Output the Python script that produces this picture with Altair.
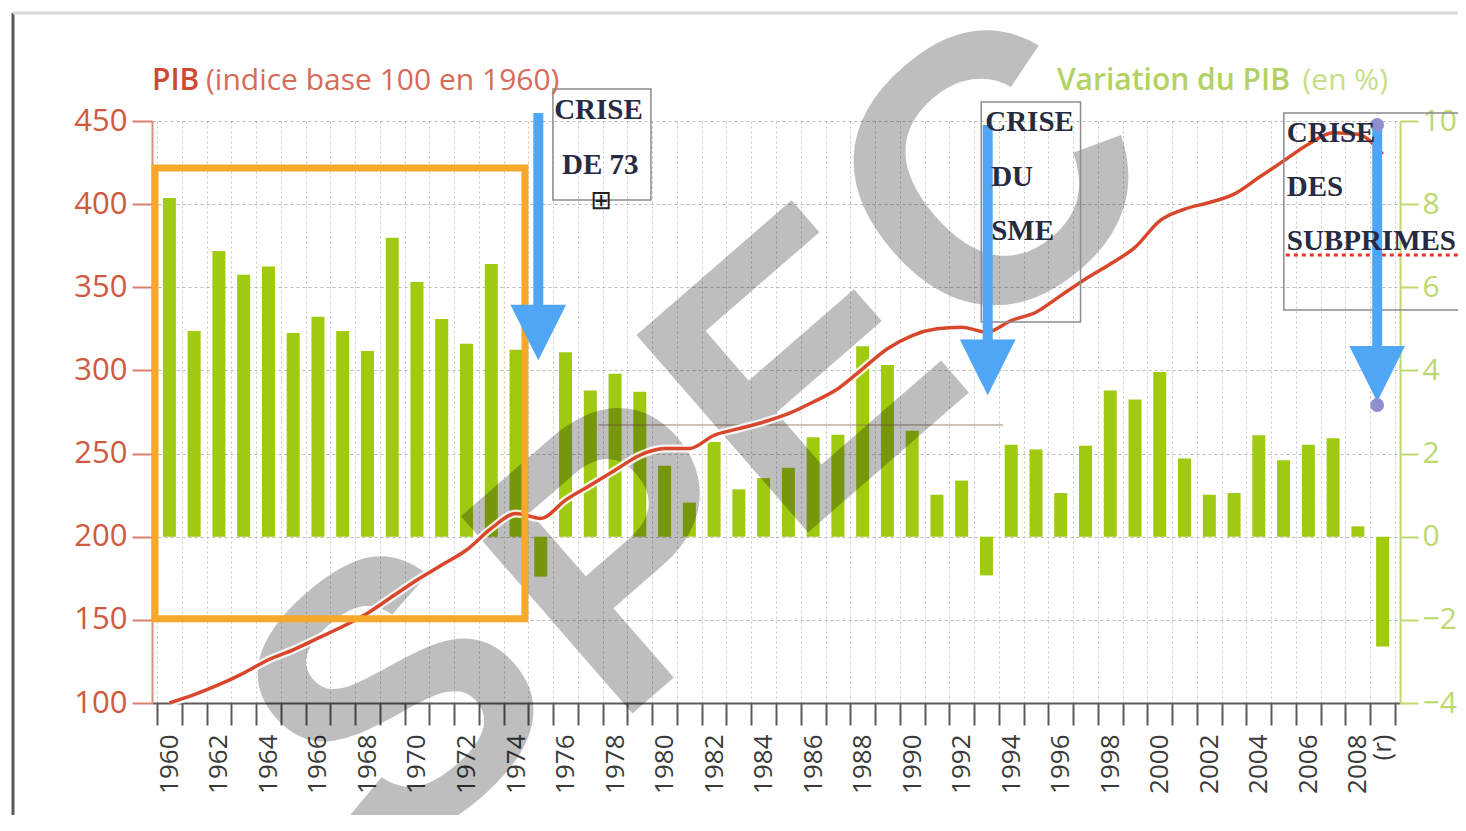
import altair as alt
import pandas as pd

# ---------------- data ----------------
years = list(range(1960, 2010))
growth = [8.15, 4.95, 6.87, 6.3, 6.5, 4.9, 5.29, 4.95, 4.47, 7.19,
          6.13, 5.24, 4.64, 6.56, 4.5, -0.96, 4.44, 3.52, 3.92, 3.49,
          1.71, 0.82, 2.28, 1.14, 1.41, 1.66, 2.39, 2.45, 4.58, 4.13,
          2.55, 1.01, 1.35, -0.93, 2.21, 2.1, 1.05, 2.19, 3.52, 3.3,
          3.96, 1.88, 1.01, 1.05, 2.44, 1.84, 2.21, 2.37, 0.25, -2.64]
pib = [100, 105, 111, 118, 126, 132, 139, 146, 154, 164,
       174, 183, 192, 205, 214, 211, 222, 231, 240, 249,
       253, 253, 261, 265, 269, 274, 281, 289, 301, 313,
       321, 325, 326, 323, 330, 335, 345, 355, 364, 374,
       390, 397, 401, 406, 416, 426, 436, 443, 442, 430]

left_ticks = [100, 150, 200, 250, 300, 350, 400, 450]
right_ticks = [-4, -2, 0, 2, 4, 6, 8, 10]

# annotations (in data space: years / PIB index)
arrow_x = [1974.9, 1993.05, 2008.78]
arrow_top = [454.8, 447.6, 447.6]
arrow_base = [336.3, 315.3, 309.3]
arrow_head = [322.8, 301.8, 297.9]
dot_x = [2008.78, 2008.78]
dot_y = [447.6, 279.2]

box_x1 = [1975.49, 1992.79, 2005.01]
box_x2 = [1979.45, 1996.8, 2013.0]
box_y1 = [469.2, 461.4, 454.8]
box_y2 = [402.5, 329.1, 336.3]

txt_c = ["CRISE", "DE 73"]
txt_c_x = [1977.33, 1977.4]
txt_c_y = [456.6, 423.5]
txt_l = ["CRISE", "DU", "SME", "CRISE", "DES", "SUBPRIMES"]
txt_l_x = [1992.95, 1993.19, 1993.19, 2005.13, 2005.13, 2005.13]
txt_l_y = [449.4, 416.3, 383.9, 442.8, 410.3, 377.8]

focus_x = [1959.42, 1974.36]
focus_y = [421.7, 150.7]

wm_letters = ["S", "P", "E", "C"]
wm_x = [1969.5, 1978.77, 1985.86, 1993.43]
wm_y = [97.0, 185.4, 294.3, 411.0]

# ---------------- scales / axes ----------------
xs = alt.Scale(domain=[1959.5, 2009.5], nice=False, zero=False)
yl = alt.Scale(domain=[100, 450], nice=False, zero=False)
yr = alt.Scale(domain=[-4, 10], nice=False, zero=False)

xvals = [1959.5 + 0.5 * i for i in range(101)]
xaxis = alt.Axis(
    values=xvals, title=None,
    labelExpr="datum.value == 2009 ? '(r)' : (datum.value % 2 == 0 ? '' + datum.value : '')",
    labelAngle=270, labelFont="Open Sans", labelFontSize=26, labelColor="#3a3a3a",
    labelOverlap=False, labelFlush=False, labelBound=False, labelPadding=9,
    tickSize=22, tickWidth=2, tickColor="#5a5a5a",
    tickOpacity={"condition": {"test": "datum.value % 1 == 0", "value": 0}, "value": 1},
    grid=True, gridColor="#c4c4c4", gridDash=[2, 3], gridWidth=1,
    gridOpacity={"condition": {"test": "datum.value % 1 == 0", "value": 0}, "value": 1},
    domainColor="#5a5a5a", domainWidth=2,
)
laxis = alt.Axis(
    orient="left", values=left_ticks, title=None,
    labelFont="Open Sans", labelFontSize=31, labelColor="#d05a40", labelPadding=5,
    tickSize=20, tickWidth=2, tickColor="#d9806e",
    domainColor="#de8d7c", domainWidth=2,
    grid=True, gridColor="#b9b9b9", gridDash=[3, 3], gridWidth=1,
)
raxis = alt.Axis(
    orient="right", values=right_ticks, title=None,
    labelFont="Open Sans", labelFontSize=30, labelColor="#bcd870", labelPadding=4,
    tickSize=18, tickWidth=2, tickColor="#bcd870",
    domainColor="#bcd870", domainWidth=2, grid=False,
)

df = pd.DataFrame({"year": years, "growth": growth, "pib": pib})

bars = alt.Chart(df).mark_bar(size=13, color="#9fca10").encode(
    x=alt.X("year:Q", scale=xs, axis=xaxis),
    y=alt.Y("growth:Q", scale=yr, axis=raxis),
)

brown = alt.Chart(pd.DataFrame({"x": [1977.33], "x2": [1993.67], "y": [267.2]})).mark_rule(
    color="#8b6a4e", strokeWidth=1, opacity=0.8
).encode(
    x=alt.X("x:Q", scale=xs, axis=xaxis), x2="x2:Q",
    y=alt.Y("y:Q", scale=yl, axis=None),
)

wm = alt.Chart(pd.DataFrame({"t": wm_letters, "x": wm_x, "y": wm_y})).mark_text(
    font="Liberation Sans", fontWeight="bold", fontSize=380, angle=319,
    color="#000000", opacity=0.25, align="center", baseline="middle"
).encode(
    x=alt.X("x:Q", scale=xs, axis=xaxis),
    y=alt.Y("y:Q", scale=yl, axis=None),
    text="t:N",
)

halo = alt.Chart(df).mark_line(color="#ffffff", strokeWidth=8, opacity=0.85,
                               interpolate="monotone").encode(
    x=alt.X("year:Q", scale=xs, axis=xaxis),
    y=alt.Y("pib:Q", scale=yl, axis=None),
)
line = alt.Chart(df).mark_line(color="#d8472b", strokeWidth=3.5,
                               interpolate="monotone").encode(
    x=alt.X("year:Q", scale=xs, axis=xaxis),
    y=alt.Y("pib:Q", scale=yl, axis=laxis),
)

focus = alt.Chart(pd.DataFrame({"x": [focus_x[0]], "x2": [focus_x[1]],
                                "y": [focus_y[0]], "y2": [focus_y[1]]})).mark_rect(
    fillOpacity=0, stroke="#f6a82a", strokeWidth=7
).encode(
    x=alt.X("x:Q", scale=xs, axis=xaxis), x2="x2:Q",
    y=alt.Y("y:Q", scale=yl, axis=None), y2="y2:Q",
)

boxes = alt.Chart(pd.DataFrame({"x": box_x1, "x2": box_x2, "y": box_y1, "y2": box_y2})).mark_rect(
    fillOpacity=0, stroke="#8c8c8c", strokeWidth=1.5
).encode(
    x=alt.X("x:Q", scale=xs, axis=xaxis), x2="x2:Q",
    y=alt.Y("y:Q", scale=yl, axis=None), y2="y2:Q",
)

tc = alt.Chart(pd.DataFrame({"t": txt_c, "x": txt_c_x, "y": txt_c_y})).mark_text(
    font="Liberation Serif", fontWeight="bold", fontSize=29, color="#272b42",
    align="center", baseline="middle"
).encode(
    x=alt.X("x:Q", scale=xs, axis=xaxis),
    y=alt.Y("y:Q", scale=yl, axis=None),
    text="t:N",
)
tl = alt.Chart(pd.DataFrame({"t": txt_l, "x": txt_l_x, "y": txt_l_y})).mark_text(
    font="Liberation Serif", fontWeight="bold", fontSize=29, color="#272b42",
    align="left", baseline="middle"
).encode(
    x=alt.X("x:Q", scale=xs, axis=xaxis),
    y=alt.Y("y:Q", scale=yl, axis=None),
    text="t:N",
)

underline = alt.Chart(pd.DataFrame({"x": [2005.09], "x2": [2013.0], "y": [369.4]})).mark_rule(
    color="#e8322a", strokeWidth=3, strokeDash=[4, 4]
).encode(
    x=alt.X("x:Q", scale=xs, axis=xaxis), x2="x2:Q",
    y=alt.Y("y:Q", scale=yl, axis=None),
)

icon = alt.Chart(pd.DataFrame({"t": ["\u229e"], "x": [1977.45], "y": [401.9]})).mark_text(
    font="DejaVu Sans", fontSize=26, color="#222222", align="center", baseline="middle"
).encode(
    x=alt.X("x:Q", scale=xs, axis=xaxis),
    y=alt.Y("y:Q", scale=yl, axis=None),
    text="t:N",
)

adf = pd.DataFrame({"x": arrow_x, "top": arrow_top, "base": arrow_base, "head": arrow_head})
shafts = alt.Chart(adf).mark_rule(color="#4ea6f4", strokeWidth=10).encode(
    x=alt.X("x:Q", scale=xs, axis=xaxis),
    y=alt.Y("top:Q", scale=yl, axis=None), y2="base:Q",
)
heads = alt.Chart(adf).mark_point(shape="M-1,-1L1,-1L0,1Z", size=3100, filled=True,
                                  color="#4ea6f4", opacity=1, strokeWidth=0).encode(
    x=alt.X("x:Q", scale=xs, axis=xaxis),
    y=alt.Y("head:Q", scale=yl, axis=None),
)
dots = alt.Chart(pd.DataFrame({"x": dot_x, "y": dot_y})).mark_point(
    shape="circle", size=190, filled=True, color="#8d8fcf", opacity=1, strokeWidth=0
).encode(
    x=alt.X("x:Q", scale=xs, axis=xaxis),
    y=alt.Y("y:Q", scale=yl, axis=None),
)

one = pd.DataFrame({"a": [0]})
t1 = alt.Chart(one).mark_text(text="PIB", font="Open Sans", fontWeight=600, fontSize=30,
                              color="#cc4a32", align="left", baseline="alphabetic").encode(
    x=alt.value(0), y=alt.value(-31))
t2 = alt.Chart(one).mark_text(text="(indice base 100 en 1960)", font="Open Sans", fontSize=30,
                              color="#d66c57", align="left", baseline="alphabetic").encode(
    x=alt.value(54), y=alt.value(-31))
t3 = alt.Chart(one).mark_text(text="Variation du PIB", font="Open Sans", fontWeight=600, fontSize=30,
                              color="#b3d264", align="right", baseline="alphabetic").encode(
    x=alt.value(1138), y=alt.value(-31))
t4 = alt.Chart(one).mark_text(text="(en %)", font="Open Sans", fontSize=30,
                              color="#c6de8a", align="right", baseline="alphabetic").encode(
    x=alt.value(1236), y=alt.value(-31))

frame = alt.Chart(one).mark_rule(color="#5a5a5a", strokeWidth=3).encode(
    x=alt.value(-139), y=alt.value(-108), y2=alt.value(720))
frame_top = alt.Chart(one).mark_rule(color="#d8d8d8", strokeWidth=3).encode(
    x=alt.value(-139), x2=alt.value(1320), y=alt.value(-108))

chart = alt.layer(
    bars, brown, wm, halo, line, focus, boxes, underline, icon,
    shafts, heads, dots, tc, tl, t1, t2, t3, t4, frame, frame_top
).resolve_scale(y="independent").resolve_axis(y="independent").properties(
    width=1248, height=582,
    padding={"left": 144, "top": 113, "right": 58, "bottom": 112},
    autosize=alt.AutoSizeParams(type="none"),
    background="white",
).configure_view(strokeWidth=0)

chart.save("out.html", embed_options={"renderer": "svg", "actions": False})
